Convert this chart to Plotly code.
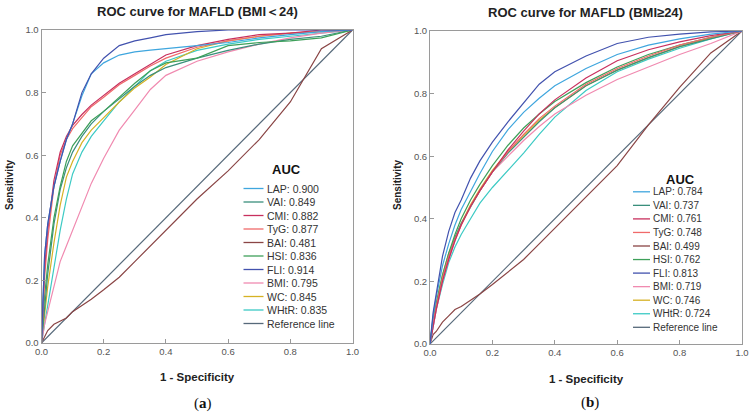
import plotly.graph_objects as go

W, H = 751, 414

# ---------------- data ----------------
names = ["LAP", "VAI", "CMI", "TyG", "BAI", "HSI", "FLI", "BMI", "WC", "WHtR"]
auc_a = ["0.900", "0.849", "0.882", "0.877", "0.481", "0.836", "0.914", "0.795", "0.845", "0.835"]
auc_b = ["0.784", "0.737", "0.761", "0.748", "0.499", "0.762", "0.813", "0.719", "0.746", "0.724"]
colors = ["#3fa6de", "#3a8f7c", "#c8305e", "#f06a6a", "#8a4545", "#3ea05a",
          "#4252ae", "#f08ab0", "#d6b224", "#3ccac4"]
ref_color = "#56697a"

fpr = [0, 0.01, 0.02, 0.04, 0.06, 0.08, 0.10, 0.13, 0.16, 0.20,
       0.25, 0.30, 0.35, 0.40, 0.50, 0.60, 0.70, 0.80, 0.90, 1.0]

# Panel (a) BMI<24 sensitivities
lap_a  = [0, 0.28, 0.38, 0.50, 0.58, 0.65, 0.70, 0.79, 0.86, 0.895, 0.92, 0.93, 0.936, 0.94, 0.95, 0.96, 0.975, 0.985, 0.995, 1]
vai_a  = [0, 0.12, 0.22, 0.38, 0.49, 0.56, 0.61, 0.66, 0.70, 0.74, 0.78, 0.82, 0.855, 0.88, 0.91, 0.935, 0.955, 0.97, 0.98, 1]
cmi_a  = [0, 0.24, 0.36, 0.52, 0.61, 0.66, 0.695, 0.73, 0.76, 0.79, 0.83, 0.86, 0.89, 0.92, 0.95, 0.97, 0.985, 0.99, 1.0, 1]
tyg_a  = [0, 0.21, 0.33, 0.50, 0.60, 0.65, 0.685, 0.72, 0.755, 0.785, 0.825, 0.855, 0.885, 0.91, 0.945, 0.965, 0.98, 0.99, 0.995, 1]
bai_a  = [0, 0.02, 0.04, 0.06, 0.07, 0.08, 0.10, 0.12, 0.14, 0.17, 0.21, 0.26, 0.31, 0.36, 0.46, 0.55, 0.65, 0.77, 0.94, 1]
hsi_a  = [0, 0.15, 0.25, 0.40, 0.50, 0.58, 0.63, 0.67, 0.71, 0.74, 0.785, 0.83, 0.87, 0.895, 0.91, 0.95, 0.96, 0.965, 0.975, 1]
fli_a  = [0, 0.28, 0.38, 0.50, 0.58, 0.65, 0.70, 0.80, 0.86, 0.91, 0.95, 0.965, 0.975, 0.985, 0.995, 1.0, 1.0, 1.0, 1.0, 1]
bmi_a  = [0, 0.06, 0.10, 0.18, 0.26, 0.31, 0.36, 0.44, 0.51, 0.59, 0.68, 0.745, 0.81, 0.855, 0.90, 0.93, 0.955, 0.975, 0.99, 1]
wc_a   = [0, 0.10, 0.18, 0.32, 0.44, 0.53, 0.58, 0.64, 0.68, 0.72, 0.77, 0.815, 0.85, 0.89, 0.94, 0.965, 0.98, 0.99, 0.995, 1]
whtr_a = [0, 0.06, 0.12, 0.24, 0.36, 0.46, 0.54, 0.61, 0.66, 0.71, 0.77, 0.82, 0.87, 0.90, 0.935, 0.955, 0.97, 0.98, 0.99, 1]

# Panel (b) BMI>=24 sensitivities
lap_b  = [0, 0.09, 0.15, 0.25, 0.32, 0.38, 0.43, 0.49, 0.545, 0.615, 0.685, 0.74, 0.785, 0.825, 0.88, 0.925, 0.955, 0.975, 0.99, 1]
vai_b  = [0, 0.07, 0.12, 0.21, 0.28, 0.34, 0.385, 0.44, 0.49, 0.55, 0.61, 0.66, 0.71, 0.755, 0.825, 0.875, 0.915, 0.95, 0.975, 1]
cmi_b  = [0, 0.06, 0.11, 0.20, 0.27, 0.33, 0.38, 0.44, 0.49, 0.55, 0.62, 0.68, 0.735, 0.78, 0.85, 0.905, 0.94, 0.965, 0.985, 1]
tyg_b  = [0, 0.07, 0.12, 0.21, 0.28, 0.335, 0.38, 0.44, 0.49, 0.55, 0.615, 0.67, 0.72, 0.76, 0.83, 0.88, 0.92, 0.955, 0.98, 1]
bai_b  = [0, 0.03, 0.04, 0.07, 0.09, 0.11, 0.12, 0.14, 0.16, 0.19, 0.23, 0.27, 0.32, 0.37, 0.47, 0.57, 0.70, 0.82, 0.93, 1]
hsi_b  = [0, 0.08, 0.13, 0.22, 0.29, 0.35, 0.40, 0.46, 0.51, 0.57, 0.635, 0.69, 0.735, 0.775, 0.835, 0.885, 0.925, 0.955, 0.98, 1]
fli_b  = [0, 0.10, 0.16, 0.28, 0.36, 0.42, 0.46, 0.53, 0.585, 0.645, 0.71, 0.77, 0.83, 0.87, 0.92, 0.96, 0.98, 0.99, 0.997, 1]
bmi_b  = [0, 0.06, 0.11, 0.20, 0.27, 0.33, 0.38, 0.44, 0.49, 0.55, 0.60, 0.65, 0.695, 0.735, 0.795, 0.845, 0.885, 0.925, 0.96, 1]
wc_b   = [0, 0.08, 0.13, 0.22, 0.29, 0.34, 0.385, 0.445, 0.495, 0.555, 0.615, 0.665, 0.715, 0.755, 0.825, 0.875, 0.915, 0.95, 0.978, 1]
whtr_b = [0, 0.06, 0.11, 0.19, 0.26, 0.31, 0.35, 0.40, 0.45, 0.50, 0.555, 0.61, 0.67, 0.725, 0.81, 0.87, 0.91, 0.945, 0.975, 1]

ref_x = [0, 1]
ref_y = [0, 1]

tick_vals = [0, 0.2, 0.4, 0.6, 0.8, 1.0]
tick_text = ["0.0", "0.2", "0.4", "0.6", "0.8", "1.0"]

series_a = [lap_a, vai_a, cmi_a, tyg_a, bai_a, hsi_a, fli_a, bmi_a, wc_a, whtr_a]
series_b = [lap_b, vai_b, cmi_b, tyg_b, bai_b, hsi_b, fli_b, bmi_b, wc_b, whtr_b]

# ---------------- figure ----------------
FONT = "Liberation Sans"
fig = go.Figure()

def px(x):
    return x / W

def py(y):
    return 1 - y / H

draw_order = [4, 9, 8, 7, 1, 5, 3, 2, 0, 6]
for axis_suffix, series in (("", series_a), ("2", series_b)):
    fig.add_trace(go.Scatter(x=ref_x, y=ref_y, mode="lines",
                             line=dict(color=ref_color, width=1.2),
                             xaxis="x" + axis_suffix, yaxis="y" + axis_suffix,
                             showlegend=False, hoverinfo="skip"))
    for i in draw_order:
        fig.add_trace(go.Scatter(x=fpr, y=series[i], mode="lines",
                                 line=dict(color=colors[i], width=1.2),
                                 xaxis="x" + axis_suffix, yaxis="y" + axis_suffix,
                                 name=names[i], showlegend=False))

axis_common = dict(range=[0, 1], tickvals=tick_vals, ticktext=tick_text,
                   ticks="inside", ticklen=4, tickcolor="#999", tickwidth=1,
                   showline=True, linecolor="#9a9a9a", linewidth=1, mirror=True,
                   showgrid=False, zeroline=False, automargin=False,
                   tickfont=dict(family=FONT, size=9.5, color="#555"))

fig.update_layout(
    width=W, height=H,
    margin=dict(l=0, r=0, t=0, b=0, pad=0, autoexpand=False),
    paper_bgcolor="white", plot_bgcolor="white",
    showlegend=False,
    xaxis=dict(domain=[px(41.5), px(352.5)], anchor="y", **axis_common),
    yaxis=dict(domain=[py(343), py(30)], anchor="x", **axis_common),
    xaxis2=dict(domain=[px(430), px(742)], anchor="y2", **axis_common),
    yaxis2=dict(domain=[py(344), py(31)], anchor="x2", **axis_common),
)

ann = []
def text(x, y, s, size, bold=False, family=FONT, color="#222", xanchor="center", angle=0):
    ann.append(dict(x=px(x), y=py(y), xref="paper", yref="paper", text=(f"<b>{s}</b>" if bold else s),
                    showarrow=False, xanchor=xanchor, yanchor="middle", textangle=angle,
                    font=dict(family=family, size=size, color=color)))

# titles
text(197, 11, "ROC curve for MAFLD (BMI＜24)", 13, bold=True)
text(585, 12.5, "ROC curve for MAFLD (BMI≥24)", 13, bold=True)
# axis titles
text(197.5, 377, "1 - Specificity", 11.5, bold=True)
text(586, 379, "1 - Specificity", 11.5, bold=True)
text(9, 185, "Sensitivity", 10, bold=True, angle=-90)
text(397, 185, "Sensitivity", 10, bold=True, angle=-90)
# panel labels
SERIF = "Liberation Serif"
text(203, 403, "(<b>a</b>)", 15, family=SERIF, color="#111")
text(590, 402, "(<b>b</b>)", 15, family=SERIF, color="#111")

shapes = []
def legend(x_line0, x_line1, x_text, y0, step, auc_title_xy, aucs, size):
    text(auc_title_xy[0], auc_title_xy[1], "AUC", 13, bold=True, color="#111")
    labels = [f"{n}: {a}" for n, a in zip(names, aucs)] + ["Reference line"]
    cols = colors + [ref_color]
    for k, (lab, c) in enumerate(zip(labels, cols)):
        yy = y0 + k * step
        shapes.append(dict(type="line", xref="paper", yref="paper",
                           x0=px(x_line0), x1=px(x_line1), y0=py(yy), y1=py(yy),
                           line=dict(color=c, width=1.3)))
        text(x_text, yy, lab, size, color="#333", xanchor="left")

legend(243.5, 263.5, 265, 188.5, 13.5, (286.5, 169.5), auc_a, 10.5)
legend(633, 650, 650.5, 191.8, 13.55, (680, 179.5), auc_b, 10)

fig.update_layout(annotations=ann, shapes=shapes)
fig.write_html("out.html",
               config={"displayModeBar": False},
               post_script="document.body.style.margin='0px';document.body.style.overflow='hidden';")
